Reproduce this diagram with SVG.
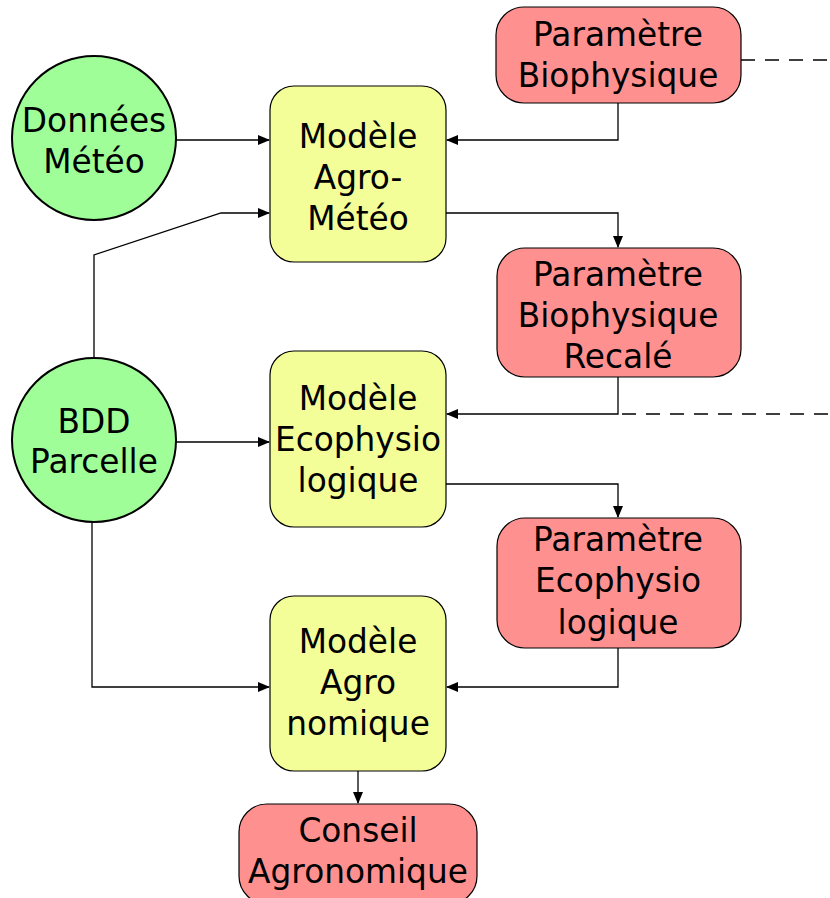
<svg xmlns="http://www.w3.org/2000/svg" width="830" height="898" viewBox="0 0 830 898">
<defs>
<marker id="arr" markerWidth="12" markerHeight="12" refX="11" refY="6" orient="auto" markerUnits="userSpaceOnUse">
<path d="M0,1 L12,6 L0,11 Z" fill="#000"/>
</marker>
<style>
text{font-family:"DejaVu Sans",sans-serif;font-size:32.8px;fill:#000;text-anchor:middle}
.c{fill:#a0fe98;stroke:#000;stroke-width:2}
.y{fill:#f4fe98;stroke:#000;stroke-width:1.2}
.r{fill:#fe9190;stroke:#000;stroke-width:1.2}
.l{fill:none;stroke:#000;stroke-width:1.3}
.d{fill:none;stroke:#000;stroke-width:1.3;stroke-dasharray:14,10}
</style>
</defs>
<rect width="830" height="898" fill="#fff"/>
<g id="connectors">
<path class="l" d="M176,140 H269" marker-end="url(#arr)"/>
<path class="l" d="M618,103 V140 H447" marker-end="url(#arr)"/>
<path class="l" d="M446,213 H618 V247" marker-end="url(#arr)"/>
<path class="l" d="M94,357 V255 L221,213 H269" marker-end="url(#arr)"/>
<path class="l" d="M618,377 V414 H447" marker-end="url(#arr)"/>
<path class="d" d="M622,414 H830"/>
<path class="d" d="M741,60 H830"/>
<path class="l" d="M176,442 H269" marker-end="url(#arr)"/>
<path class="l" d="M446,484 H618 V517" marker-end="url(#arr)"/>
<path class="l" d="M618,648 V687 H447" marker-end="url(#arr)"/>
<path class="l" d="M92,522 V687 H269" marker-end="url(#arr)"/>
<path class="l" d="M358,771 V803" marker-end="url(#arr)"/>
</g>
<g id="donnees-meteo">
<circle class="c" cx="94" cy="138" r="82"/>
<text x="94" y="132">Données</text>
<text x="94" y="173">Météo</text>
</g>
<g id="bdd-parcelle">
<circle class="c" cx="94" cy="440" r="82"/>
<text x="94" y="433">BDD</text>
<text x="94" y="473">Parcelle</text>
</g>
<g id="modele-agro-meteo">
<rect class="y" x="270" y="86" width="176" height="176" rx="24"/>
<text x="358" y="148">Modèle</text>
<text x="358" y="189">Agro-</text>
<text x="358" y="230">Météo</text>
</g>
<g id="modele-ecophysio">
<rect class="y" x="270" y="351" width="176" height="176" rx="24"/>
<text x="358" y="410">Modèle</text>
<text x="358" y="451">Ecophysio</text>
<text x="358" y="492">logique</text>
</g>
<g id="modele-agronomique">
<rect class="y" x="270" y="596" width="176" height="175" rx="24"/>
<text x="358" y="653">Modèle</text>
<text x="358" y="694">Agro</text>
<text x="358" y="735">nomique</text>
</g>
<g id="param-biophysique">
<rect class="r" x="496" y="7" width="245" height="96" rx="28"/>
<text x="618" y="46">Paramètre</text>
<text x="618" y="87">Biophysique</text>
</g>
<g id="param-biophysique-recale">
<rect class="r" x="497" y="248" width="244" height="129" rx="28"/>
<text x="618" y="286">Paramètre</text>
<text x="618" y="327">Biophysique</text>
<text x="618" y="368">Recalé</text>
</g>
<g id="param-ecophysio">
<rect class="r" x="497" y="518" width="244" height="130" rx="28"/>
<text x="618" y="551">Paramètre</text>
<text x="618" y="592">Ecophysio</text>
<text x="618" y="634">logique</text>
</g>
<g id="conseil-agronomique">
<rect class="r" x="239" y="804" width="238" height="100" rx="28"/>
<text x="358" y="842">Conseil</text>
<text x="358" y="883">Agronomique</text>
</g>
</svg>
